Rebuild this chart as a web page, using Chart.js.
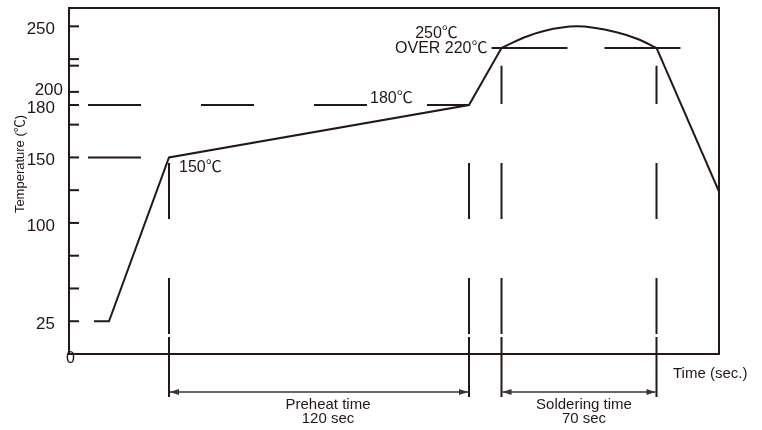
<!DOCTYPE html>
<html>
<head>
<meta charset="utf-8">
<script src="https://cdn.jsdelivr.net/npm/chart.js@4"></script>
<style>
  html, body { margin: 0; padding: 0; background: #fff; }
  #wrap { width: 762px; height: 430px; }
</style>
</head>
<body>
<div id="wrap"><canvas id="profileChart"></canvas></div>
<script>
// Reflow profile. The drawing is schematic: the "180" mark sits at ~190 on the
// scale and the "OVER 220" level at ~233, so values are in axis units.
const rampTime = [10, 16, 40, 160, 173];
const rampTemp = [25, 25, 150, 190, 233.5];
const peakTime = [173, 182, 190, 203, 219, 228, 235];
const peakTemp = [233.5, 241.5, 246.5, 250, 245.5, 240, 233.5];
const coolTime = [235, 260];
const coolTemp = [233.5, 124];

// dashed level lines
const guideTemp = [150, 190, 233.5];
const guideFrom = [7.6, 7.6, 169];
const guideTo = [40, 160, 245];

// vertical markers and the two time spans
const markTime = [40, 160, 173, 235];
const markTop = [150, 190, 220, 220];
const spanFrom = [40, 173];
const spanTo = [160, 235];
const spanText = [['Preheat time', '120 sec'], ['Soldering time', '70 sec']];

const yTickValues = [0, 25, 50, 75, 100, 125, 150, 175, 190, 200, 220, 225, 250];
const yTickLabels = ['', '25', '', '', '100', '', '150', '', '180', '200', '', '', '250'];

const INK = '#231815';
const FONT = '"Liberation Sans", "Noto Sans CJK JP", sans-serif';

function pts(xs, ys) {
    return xs.map((x, i) => ({ x: x, y: ys[i] }));
}

const notes = [
    { text: '150℃', t: 40, v: 150, dx: 10, dy: 10, align: 'left' },
    { text: '180℃', t: 160, v: 190, dx: -99, dy: -6, align: 'left' },
    { text: '250℃', t: 173, v: 233.5, dx: -65, dy: -14, align: 'center' },
    { text: 'OVER 220℃', t: 173, v: 233.5, dx: -14, dy: 1, align: 'right' }
];

const decor = {
    id: 'decor',
    afterDatasetsDraw(chart) {
        const ctx = chart.ctx;
        const xs = chart.scales.x, ys = chart.scales.y;
        const a = chart.chartArea;
        ctx.save();
        ctx.strokeStyle = INK;
        ctx.fillStyle = INK;
        ctx.lineWidth = 2;

        // frame
        ctx.strokeRect(a.left, a.top, a.right - a.left, a.bottom - a.top);

        // inward tick marks
        yTickValues.forEach(v => {
            const y = ys.getPixelForValue(v);
            ctx.beginPath();
            ctx.moveTo(a.left, y);
            ctx.lineTo(a.left + 10, y);
            ctx.stroke();
        });

        // vertical markers: dashed in the plot, solid through the axis
        markTime.forEach((t, i) => {
            const x = xs.getPixelForValue(t);
            const top = ys.getPixelForValue(markTop[i]);
            ctx.save();
            ctx.beginPath();
            ctx.rect(x - 3, top, 6, a.bottom - top);
            ctx.clip();
            ctx.setLineDash([56, 59]);
            ctx.beginPath();
            ctx.moveTo(x, a.bottom - 20);
            ctx.lineTo(x, a.top);
            ctx.stroke();
            ctx.restore();
            ctx.beginPath();
            ctx.moveTo(x, a.bottom - 17);
            ctx.lineTo(x, a.bottom + 43);
            ctx.stroke();
        });

        // span arrows
        ctx.lineWidth = 1.5;
        ctx.strokeStyle = '#3d3331';
        ctx.fillStyle = '#3d3331';
        const ay = a.bottom + 38;
        spanFrom.forEach((t, i) => {
            const x1 = xs.getPixelForValue(t) + 1;
            const x2 = xs.getPixelForValue(spanTo[i]) - 1;
            ctx.beginPath();
            ctx.moveTo(x1, ay);
            ctx.lineTo(x2, ay);
            ctx.stroke();
            [[x1, 1], [x2, -1]].forEach(([x, d]) => {
                ctx.beginPath();
                ctx.moveTo(x, ay);
                ctx.lineTo(x + d * 9, ay - 3);
                ctx.lineTo(x + d * 9, ay + 3);
                ctx.closePath();
                ctx.fill();
            });
        });

        // texts
        ctx.fillStyle = INK;
        ctx.textBaseline = 'middle';
        ctx.font = '15px ' + FONT;
        ctx.textAlign = 'center';
        const spanDx = [9, 5];
        spanFrom.forEach((t, i) => {
            const mid = (xs.getPixelForValue(t) + xs.getPixelForValue(spanTo[i])) / 2 + spanDx[i];
            ctx.fillText(spanText[i][0], mid, a.bottom + 51);
            ctx.fillText(spanText[i][1], mid, a.bottom + 65);
        });
        ctx.textAlign = 'left';
        ctx.fillText('Time (sec.)', a.right - 46, a.bottom + 20);

        ctx.font = '16px ' + FONT;
        notes.forEach(n => {
            ctx.textAlign = n.align;
            ctx.fillText(n.text, xs.getPixelForValue(n.t) + n.dx, ys.getPixelForValue(n.v) + n.dy);
        });

        ctx.textAlign = 'center';
        ctx.fillText('0', a.left + 1.5, ys.getPixelForValue(0) + 5);

        // "200" sits a little above its tick so it clears "180"
        ctx.font = '17px ' + FONT;
        ctx.textAlign = 'right';
        ctx.fillText('200', a.left - 6, ys.getPixelForValue(200) - 2);

        ctx.save();
        ctx.translate(20, 164);
        ctx.rotate(-Math.PI / 2);
        ctx.textAlign = 'center';
        ctx.font = '13px ' + FONT;
        ctx.fillText('Temperature (℃)', 0, 0);
        ctx.restore();

        ctx.restore();
    }
};

function initProfileChart() {
    const ctx = document.getElementById('profileChart').getContext('2d');
    const line = { borderColor: INK, borderWidth: 2, pointRadius: 0, fill: false, tension: 0 };
    const guides = guideTemp.map((v, i) => Object.assign({}, line, {
        data: pts([guideFrom[i], guideTo[i]], [v, v]),
        borderDash: i === 2 ? [76, 37] : [53, 60]
    }));

    new Chart(ctx, {
        type: 'line',
        data: {
            datasets: [
                Object.assign({}, line, { data: pts(rampTime, rampTemp) }),
                Object.assign({}, line, { data: pts(peakTime, peakTemp), cubicInterpolationMode: 'monotone' }),
                Object.assign({}, line, { data: pts(coolTime, coolTemp) })
            ].concat(guides)
        },
        options: {
            responsive: true,
            maintainAspectRatio: false,
            animation: false,
            layout: { padding: { top: 8, right: 43, left: 0, bottom: 0 } },
            plugins: {
                legend: { display: false },
                tooltip: { enabled: false }
            },
            scales: {
                x: {
                    type: 'linear',
                    min: 0,
                    max: 260,
                    grid: { display: false },
                    border: { display: false },
                    ticks: { display: false },
                    afterFit: s => { s.height = 76; s.paddingLeft = 0; s.paddingRight = 0; }
                },
                y: {
                    type: 'linear',
                    min: 0,
                    max: 264,
                    grid: { display: false },
                    border: { display: false },
                    afterBuildTicks: s => { s.ticks = yTickValues.map(v => ({ value: v })); },
                    ticks: {
                        autoSkip: false,
                        padding: 6,
                        labelOffset: 3,
                        color: INK,
                        font: { family: FONT, size: 17 },
                        callback: v => (v === 200 ? '' : yTickLabels[yTickValues.indexOf(v)])
                    },
                    afterFit: s => { s.width = 69; s.paddingTop = 0; s.paddingBottom = 0; }
                }
            }
        },
        plugins: [decor]
    });
}

document.addEventListener('DOMContentLoaded', function() {
    initProfileChart();
});
</script>
</body>
</html>
